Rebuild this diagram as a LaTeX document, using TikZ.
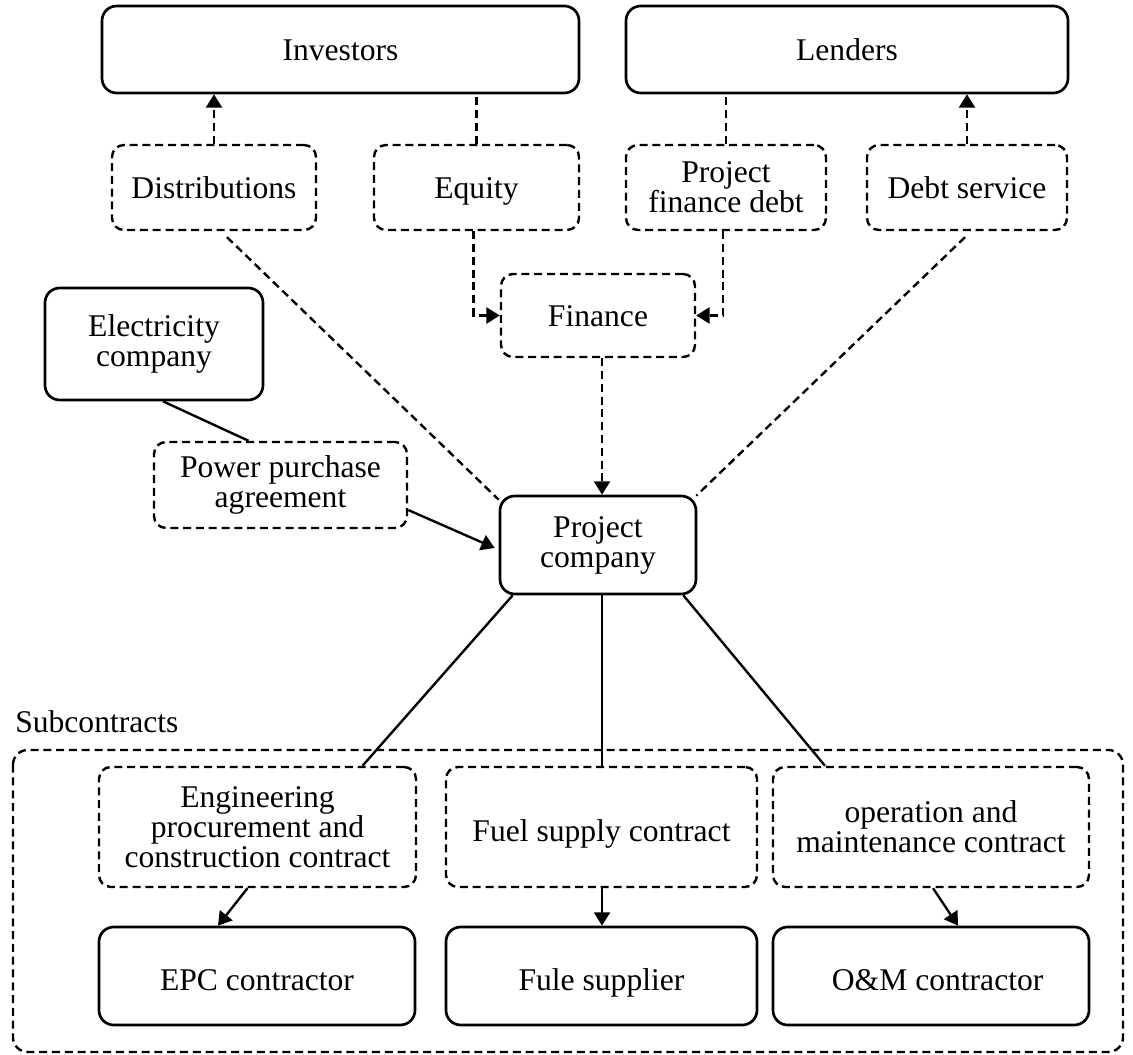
\documentclass[tikz,border=0pt]{standalone}
\usepackage{fontspec}
\setmainfont{Liberation Serif}
\usetikzlibrary{calc,arrows.meta}
\begin{document}
\begin{tikzpicture}[x=0.75pt,y=-0.75pt,
  every node/.style={font=\fontsize{23.7pt}{22.5pt}\selectfont, align=center, inner sep=0pt},
  oneline/.style={text height=15.8pt, text depth=0pt},
  solidbox/.style={draw, line width=2pt, rounded corners=11pt, minimum height=#1*0.75pt},
  dashbox/.style={draw, line width=1.8pt, rounded corners=9pt, dash pattern=on 6pt off 3.6pt, minimum height=#1*0.75pt},
  dline/.style={line width=1.8pt, dash pattern=on 6pt off 3.6pt},
  sline/.style={line width=1.8pt},
  tip/.style={-{Triangle[length=10pt,width=12pt]}}
]
\useasboundingbox (0,0) rectangle (1133,1055);

% Subcontracts frame
\draw[dline, rounded corners=11pt] (13,750) rectangle (1123,1052);
\node[anchor=west] (sub) at (15,722) {Subcontracts};

% top boxes
\node[solidbox=87, oneline, minimum width=477*0.75pt] (inv) at (340.5,49.5) {Investors};
\node[solidbox=87, oneline, minimum width=442*0.75pt] (lend) at (847,49.5) {Lenders};

\node[dashbox=85, oneline, minimum width=204*0.75pt] (dist) at (214,187.5) {Distributions};
\node[dashbox=85, oneline, minimum width=205*0.75pt] (eq) at (476.5,187.5) {Equity};
\node[dashbox=85, minimum width=200*0.75pt] (pfd) at (726,187.5) {Project\\finance debt};
\node[dashbox=85, oneline, minimum width=200*0.75pt] (ds) at (967,187.5) {Debt service};

\node[dashbox=83, oneline, minimum width=194*0.75pt] (fin) at (598,315.5) {Finance};
\node[solidbox=98, minimum width=196*0.75pt] (pc) at (598,545) {Project\\company};

\node[solidbox=112, minimum width=218*0.75pt] (elec) at (154,344) {Electricity\\company};
\node[dashbox=86, minimum width=253*0.75pt] (ppa) at (280.5,485) {Power purchase\\agreement};

% subcontracts
\node[dashbox=120, minimum width=317*0.75pt] (epcc) at (257.5,827) {Engineering\\procurement and\\construction contract};
\node[dashbox=120, oneline, minimum width=311*0.75pt] (fuelc) at (601.5,827) {\raisebox{-3pt}{Fuel supply contract}};
\node[dashbox=120, minimum width=316*0.75pt] (omc) at (931,827) {operation and\\maintenance contract};

\node[solidbox=98, oneline, minimum width=316*0.75pt] (epc) at (257,976) {\raisebox{-3pt}{EPC contractor}};
\node[solidbox=98, oneline, minimum width=311*0.75pt] (fuel) at (601.5,976) {\raisebox{-3pt}{Fule supplier}};
\node[solidbox=98, oneline, minimum width=316*0.75pt] (om) at (931,976) {\raisebox{-3pt}{\hspace*{10pt}O\&M contractor}};

% finance connectors
\draw[dline, tip] (dist.north) -- (dist.north |- inv.south);
\draw[dline] (eq.north) -- (eq.north |- inv.south);
\draw[dline] (pfd.north) -- (pfd.north |- lend.south);
\draw[dline, tip] (ds.north) -- (ds.north |- lend.south);
\draw[dline, tip] ($(eq.south)+(-3,0)$) |- (fin.west);
\draw[dline, tip] ($(pfd.south)+(-3,0)$) |- (fin.east);
\draw[dline, tip] ($(fin.south)+(4,0)$) -- ($(pc.north)+(4,0)$);
\draw[dline] ($(dist.south)+(13,6)$) -- ($(pc.north west)+(0,5)$);
\draw[dline] ($(ds.south)+(-2,6)$) -- ($(pc.north east)+(-1,1)$);

% power purchase
\draw[sline] ($(elec.south)+(9,0)$) -- ($(ppa.north)+(-32,0)$);
\draw[sline, tip] ($(ppa.east)+(0,25)$) -- ($(pc.west)+(-4,3)$);

% project company to subcontracts
\draw[sline] ($(pc.south west)+(14,0)$) -- ($(epcc.north)+(105,0)$);
\draw[sline] ($(pc.south)+(4,0)$) -- ($(fuelc.north)+(0.5,0)$);
\draw[sline] ($(pc.south east)+(-14,0)$) -- ($(omc.north)+(-106,0)$);

\draw[sline, tip] ($(epcc.south)+(-10,0)$) -- ($(epc.north)+(-39,0)$);
\draw[sline, tip] ($(fuelc.south)+(0.5,0)$) -- ($(fuel.north)+(0.5,0)$);
\draw[sline, tip] ($(omc.south)+(2,0)$) -- ($(om.north)+(27,0)$);
\end{tikzpicture}
\end{document}
